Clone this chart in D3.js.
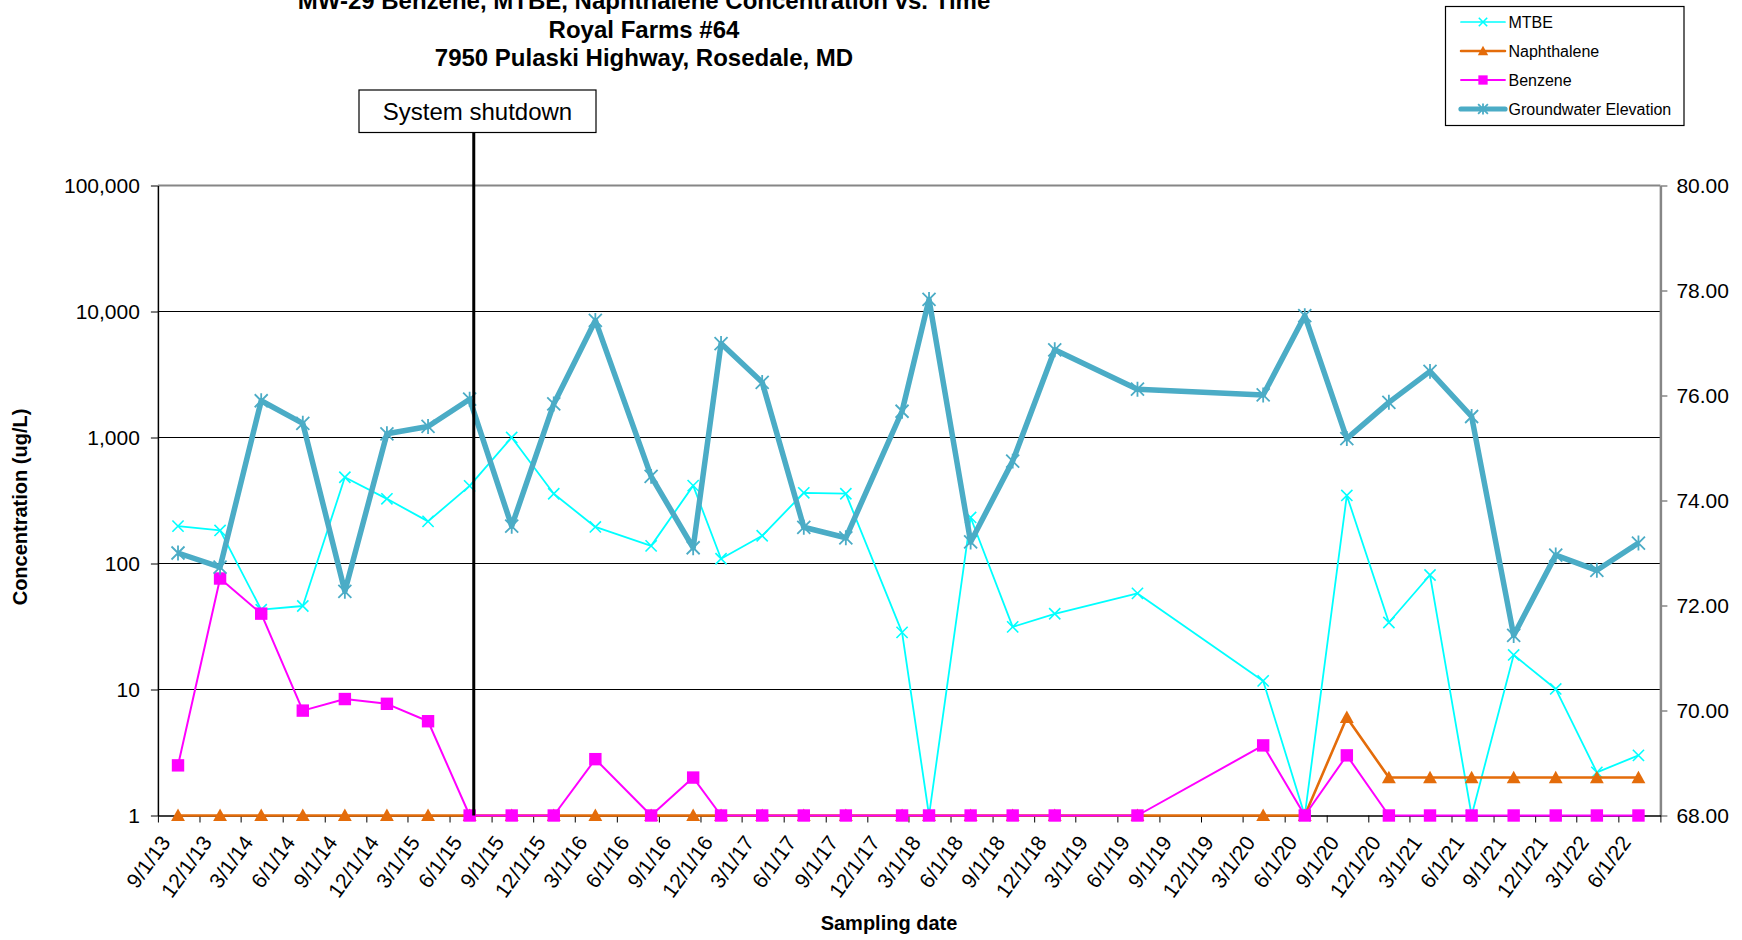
<!DOCTYPE html>
<html>
<head>
<meta charset="utf-8">
<title>MW-29 Benzene, MTBE, Naphthalene Concentration vs. Time</title>
<script src="https://cdn.jsdelivr.net/npm/d3@7"></script>
<style>
  html, body { margin: 0; padding: 0; background: #fff; }
  svg { display: block; font-family: "Liberation Sans", Arial, Helvetica, sans-serif; }
</style>
</head>
<body>
<svg id="chart" width="1742" height="940"></svg>
<script>
// ---- Monitoring data, well MW-29 ----
const sampleDates = [
  "2013-10-15", "2014-01-15", "2014-04-15", "2014-07-15", "2014-10-15",
  "2015-01-15", "2015-04-15", "2015-07-15", "2015-10-15", "2016-01-15",
  "2016-04-15", "2016-08-15", "2016-11-15", "2017-01-15", "2017-04-15",
  "2017-07-15", "2017-10-15", "2018-02-15", "2018-04-15", "2018-07-15",
  "2018-10-15", "2019-01-15", "2019-07-15", "2020-04-15", "2020-07-15",
  "2020-10-15", "2021-01-15", "2021-04-15", "2021-07-15", "2021-10-15",
  "2022-01-15", "2022-04-15", "2022-07-15"
];

// concentrations, ug/L (non-detects plotted at 1)
const mtbe = [
  198, 183, 43, 46, 484, 326, 216, 413, 1000, 358,
  195, 138, 415, 109, 166, 364, 358, 28.4, 1, 232,
  31.4, 39.9, 57.9, 11.7, 1, 347, 34, 81, 1, 18.8,
  10.1, 2.2, 3.0
];
const naphthalene = [
  1, 1, 1, 1, 1, 1, 1, 1, 1, 1,
  1, 1, 1, 1, 1, 1, 1, 1, 1, 1,
  1, 1, 1, 1, 1, 6.0, 2, 2, 2, 2,
  2, 2, 2
];
const benzene = [
  2.5, 76, 40, 6.8, 8.4, 7.7, 5.6, 1, 1, 1,
  2.8, 1, 2.0, 1, 1, 1, 1, 1, 1, 1,
  1, 1, 1, 3.6, 1, 3.0, 1, 1, 1, 1,
  1, 1, 1
];
// groundwater elevation, ft
const groundwater = [
  73.00, 72.73, 75.90, 75.47, 72.27, 75.27, 75.41, 75.93, 73.51, 75.84,
  77.43, 74.46, 73.10, 76.99, 76.25, 73.49, 73.29, 75.70, 77.83, 73.21,
  74.75, 76.87, 76.12, 76.01, 77.52, 75.18, 75.87, 76.46, 75.60, 71.43,
  72.96, 72.67, 73.19
];

// ---- Axis ticks and labels ----
const concTicks = [1, 10, 100, 1000, 10000, 100000];
const elevTicks = [68, 70, 72, 74, 76, 78, 80];
const dateTicks = [
  "9/1/13", "12/1/13", "3/1/14", "6/1/14", "9/1/14", "12/1/14", "3/1/15", "6/1/15",
  "9/1/15", "12/1/15", "3/1/16", "6/1/16", "9/1/16", "12/1/16", "3/1/17", "6/1/17",
  "9/1/17", "12/1/17", "3/1/18", "6/1/18", "9/1/18", "12/1/18", "3/1/19", "6/1/19",
  "9/1/19", "12/1/19", "3/1/20", "6/1/20", "9/1/20", "12/1/20", "3/1/21", "6/1/21",
  "9/1/21", "12/1/21", "3/1/22", "6/1/22", "9/1/22"
];
const titleLines = [
  "MW-29 Benzene, MTBE, Naphthalene Concentration vs. Time",
  "Royal Farms #64",
  "7950 Pulaski Highway, Rosedale, MD"
];
const shutdownDate = "2015-07-24";
const shutdownLabel = "System shutdown";
const yTitle = "Concentration (ug/L)";
const xTitle = "Sampling date";

// ---- Layout ----
const plot = { left: 157.9, right: 1660.4, top: 185.5, bottom: 815.5 };
const FONT = "\"Liberation Sans\", Arial, Helvetica, sans-serif";

const parseIso = d3.timeParse("%Y-%m-%d");
const parseTick = d3.timeParse("%m/%d/%y");
const fmtTick = d3.timeFormat("%-m/%-d/%y");

const dates = sampleDates.map(parseIso);
const tickDates = dateTicks.map(parseTick);

const x = d3.scaleTime()
  .domain([tickDates[0], tickDates[tickDates.length - 1]])
  .range([plot.left, plot.right]);
const yConc = d3.scaleLog().domain([1, 100000]).range([plot.bottom, plot.top]);
const yElev = d3.scaleLinear().domain([68, 80]).range([plot.bottom, plot.top]);

const svg = d3.select("#chart");

// ---- Title (first line sits at the very top edge of the page) ----
svg.append("g").selectAll("text").data(titleLines).join("text")
  .attr("x", 644)
  .attr("y", (d, i) => 9 + i * 28.5)
  .attr("text-anchor", "middle")
  .attr("font-size", 24)
  .attr("font-weight", "bold")
  .attr("fill", "#000")
  .text(d => d);

// ---- Plot frame and gridlines ----
const frame = svg.append("g");
frame.selectAll("line.grid").data(concTicks.filter(v => v > 1 && v < 100000)).join("line")
  .attr("class", "grid")
  .attr("x1", plot.left).attr("x2", plot.right)
  .attr("y1", d => yConc(d)).attr("y2", d => yConc(d))
  .attr("stroke", "#000").attr("stroke-width", 1);
frame.append("line")
  .attr("x1", plot.left).attr("x2", plot.right)
  .attr("y1", plot.top).attr("y2", plot.top)
  .attr("stroke", "#868686").attr("stroke-width", 2);

// ---- Axes ----
const axisLeft = svg.append("g")
  .attr("transform", `translate(${plot.left},0)`)
  .call(d3.axisLeft(yConc).tickValues(concTicks).tickFormat(d3.format(","))
    .tickSizeInner(7).tickSizeOuter(0).tickPadding(11));
axisLeft.select(".domain").attr("stroke", "#000").attr("stroke-width", 1.5);
axisLeft.selectAll(".tick line").attr("stroke", "#000").attr("stroke-width", 1);
axisLeft.selectAll(".tick text")
  .attr("font-family", FONT).attr("font-size", 21).attr("fill", "#000");

const axisRight = svg.append("g")
  .attr("transform", `translate(${plot.right},0)`)
  .call(d3.axisRight(yElev).tickValues(elevTicks).tickFormat(d3.format(".2f"))
    .tickSizeInner(7).tickSizeOuter(0).tickPadding(9));
axisRight.select(".domain").attr("stroke", "#868686").attr("stroke-width", 2.5);
axisRight.selectAll(".tick line").attr("stroke", "#868686").attr("stroke-width", 1.5);
axisRight.selectAll(".tick text")
  .attr("font-family", FONT).attr("font-size", 21).attr("fill", "#000");

const axisBottom = svg.append("g")
  .attr("transform", `translate(0,${plot.bottom})`)
  .call(d3.axisBottom(x).tickValues(tickDates)
    .tickFormat((d, i) => i === tickDates.length - 1 ? "" : fmtTick(d))
    .tickSizeInner(7).tickSizeOuter(0));
axisBottom.select(".domain").attr("stroke", "#000").attr("stroke-width", 1.5);
axisBottom.selectAll(".tick line").attr("stroke", "#000").attr("stroke-width", 1);
axisBottom.selectAll(".tick text")
  .attr("font-family", FONT).attr("font-size", 21).attr("fill", "#000")
  .attr("text-anchor", "end")
  .attr("x", 0).attr("y", 0).attr("dy", 0)
  .attr("transform", "translate(13,27) rotate(-54)");

// ---- Axis titles ----
svg.append("text")
  .attr("transform", "translate(27,507) rotate(-90)")
  .attr("text-anchor", "middle")
  .attr("font-size", 20).attr("font-weight", "bold")
  .text(yTitle);
svg.append("text")
  .attr("x", 889).attr("y", 930)
  .attr("text-anchor", "middle")
  .attr("font-size", 20).attr("font-weight", "bold")
  .text(xTitle);

// ---- Marker shapes ----
const markers = {
  cross: (g, s, color) => g.append("path")
    .attr("d", `M${-s},${-s}L${s},${s}M${-s},${s}L${s},${-s}`)
    .attr("stroke", color).attr("stroke-width", 1.6).attr("fill", "none"),
  asterisk: (g, s, color) => g.append("path")
    .attr("d", `M${-s},${-s}L${s},${s}M${-s},${s}L${s},${-s}M0,${-s * 1.15}L0,${s * 1.15}`)
    .attr("stroke", color).attr("stroke-width", 1.8).attr("fill", "none"),
  square: (g, s, color) => g.append("rect")
    .attr("x", -s).attr("y", -s).attr("width", 2 * s).attr("height", 2 * s)
    .attr("fill", color),
  triangle: (g, s, color) => g.append("path")
    .attr("d", `M0,${-s * 1.05}L${s * 1.05},${s * 0.85}L${-s * 1.05},${s * 0.85}Z`)
    .attr("fill", color)
};

const series = [
  { name: "MTBE", values: mtbe, scale: yConc, color: "#00FFFF", width: 1.8, marker: "cross", size: 5.6 },
  { name: "Naphthalene", values: naphthalene, scale: yConc, color: "#E46C0A", width: 2.6, marker: "triangle", size: 6.6 },
  { name: "Benzene", values: benzene, scale: yConc, color: "#FF00FF", width: 2, marker: "square", size: 6.2 },
  { name: "Groundwater Elevation", values: groundwater, scale: yElev, color: "#4BACC6", width: 5.5, marker: "asterisk", size: 6.5 }
];

const seriesLayer = svg.append("g");
series.forEach(s => {
  const pts = s.values.map((v, i) => [x(dates[i]), s.scale(v)]);
  const g = seriesLayer.append("g");
  g.append("path")
    .attr("d", d3.line()(pts))
    .attr("fill", "none")
    .attr("stroke", s.color)
    .attr("stroke-width", s.width)
    .attr("stroke-linejoin", "round");
  pts.forEach(p => {
    const m = g.append("g").attr("transform", `translate(${p[0]},${p[1]})`);
    markers[s.marker](m, s.size, s.color);
  });
});

// ---- System shutdown annotation ----
const shutX = x(parseIso(shutdownDate));
svg.append("line")
  .attr("x1", shutX).attr("x2", shutX)
  .attr("y1", 132.5).attr("y2", plot.bottom)
  .attr("stroke", "#000").attr("stroke-width", 3);
svg.append("rect")
  .attr("x", 359).attr("y", 90).attr("width", 237).attr("height", 42.5)
  .attr("fill", "#fff").attr("stroke", "#000").attr("stroke-width", 1.2);
svg.append("text")
  .attr("x", 477.5).attr("y", 119.5)
  .attr("text-anchor", "middle")
  .attr("font-size", 24)
  .text(shutdownLabel);

// ---- Legend ----
const legend = svg.append("g");
legend.append("rect")
  .attr("x", 1445.5).attr("y", 6.5).attr("width", 238.5).attr("height", 119)
  .attr("fill", "#fff").attr("stroke", "#000").attr("stroke-width", 1.2);
series.forEach((s, i) => {
  const cy = 22 + i * 29;
  const g = legend.append("g");
  g.append("line")
    .attr("x1", 1461).attr("x2", 1505)
    .attr("y1", cy).attr("y2", cy)
    .attr("stroke", s.color).attr("stroke-width", s.width * 0.95)
    .attr("stroke-linecap", "round");
  const m = g.append("g").attr("transform", `translate(1483,${cy})`);
  markers[s.marker](m, s.size * 0.75, s.color);
  g.append("text")
    .attr("x", 1508.5).attr("y", cy + 6)
    .attr("font-size", 16)
    .text(s.name);
});
</script>
</body>
</html>
